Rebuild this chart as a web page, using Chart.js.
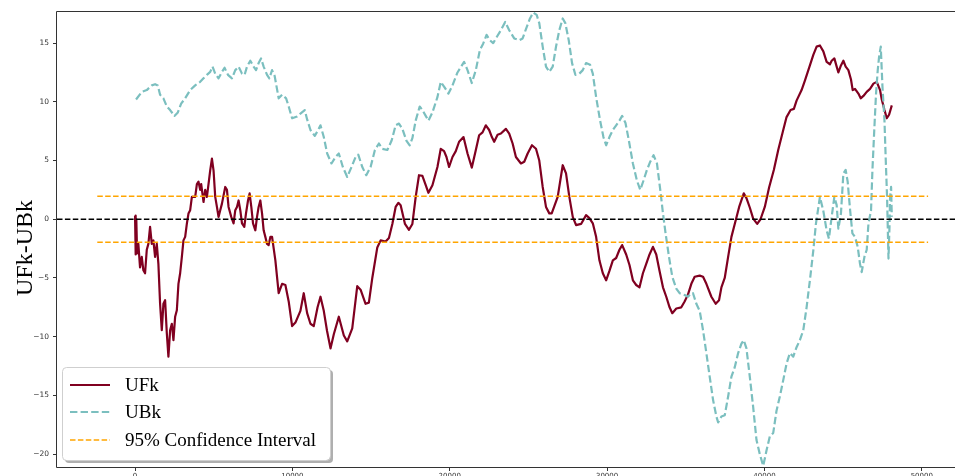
<!DOCTYPE html>
<html><head><meta charset="utf-8">
<script src="https://cdn.jsdelivr.net/npm/chart.js@4.4.1/dist/chart.umd.min.js"></script>
<style>
html,body{margin:0;padding:0;background:#fff;overflow:hidden;width:955px;height:476px}
#wrap{position:absolute;left:0;top:0;width:980px;height:490px}
canvas{display:block}
</style>
</head><body><div id="wrap"><canvas id="c" width="980" height="490" style="width:980px;height:490px"></canvas></div>
<script>
// ---- data ----
const xTicks = [0, 10000, 20000, 30000, 40000, 50000];
const yTicks = [-20, -15, -10, -5, 0, 5, 10, 15];
const xRange = [-4960, 53000];
const yRange = [-21.1, 17.65];
const ciLevel = 1.96;
const ciRange = [-2400, 50400];

const ufkX = [0,40,80,130,210,318,427,529,637,745,847,955,1064,1166,1274,1382,1484,1592,1700,1803,1911,2019,2121,2229,2338,2440,2548,2656,2758,2866,2975,3077,3185,3293,3395,3503,3612,3714,3822,3930,4032,4140,4204,4351,4459,4567,4669,4777,4886,4988,5096,5204,5306,5414,5523,5733,5841,5943,6115,6262,6370,6478,6580,6688,6797,6943,7051,7179,7281,7389,7498,7644,7752,7854,7962,8071,8173,8281,8389,8491,8600,8708,8918,9128,9345,9555,9765,9982,10192,10510,10721,10937,11148,11358,11600,11785,11995,12200,12422,12632,12950,13269,13485,13804,14122,14333,14651,14861,15078,15396,15607,15925,16135,16352,16562,16734,16880,17154,17409,17625,17836,18046,18262,18473,18645,18900,19218,19429,19639,19792,19957,20174,20384,20594,20874,21129,21403,21658,21868,22085,22295,22505,22677,22824,23040,23251,23569,23779,23996,24206,24525,24735,24951,25225,25480,25690,25907,26117,26327,26480,26861,27180,27390,27600,27818,28028,28347,28665,28875,29092,29302,29512,29729,29939,30149,30366,30576,30786,30958,31213,31423,31640,31850,32060,32277,32487,32697,32914,33124,33334,33551,33761,33971,34143,34398,34717,34927,35143,35354,35566,35885,36098,36309,36627,36902,37114,37265,37476,37692,37902,38113,38392,38686,38857,39068,39284,39539,39749,40022,40303,40596,40876,41195,41405,41660,41870,42042,42361,42571,42889,43106,43316,43526,43743,43953,44163,44272,44443,44590,44698,44863,45016,45162,45334,45500,45609,45755,45971,46118,46290,46500,46711,46927,47138,47348,47456,47628,47775,47921,48094];
const ufkY = [0.3,-3.0,0.0,-2.9,-2.1,-4.1,-3.2,-4.35,-4.6,-2.6,-2.1,-0.65,-2.1,-1.8,-3.2,-2.1,-3.8,-7.2,-9.45,-7.2,-6.9,-9.7,-11.7,-9.45,-8.9,-10.3,-8.3,-7.75,-5.5,-4.6,-3.2,-1.8,-1.5,-0.37,0.48,0.77,1.9,1.9,1.9,3.0,3.2,2.5,3.0,1.47,2.5,1.9,3.0,4.17,5.17,4.17,1.9,1.05,0.2,0.77,1.33,2.75,2.5,1.05,0.2,-0.35,0.77,1.05,1.6,0.77,-0.35,-0.65,0.5,1.6,2.2,1.05,-0.35,-0.94,0.2,1.05,1.6,0.5,-0.94,-1.5,-2.1,-2.2,-1.5,-1.5,-3.5,-6.3,-5.5,-5.6,-7.0,-9.1,-8.8,-7.8,-6.3,-8.0,-8.9,-9.1,-7.5,-6.6,-7.8,-9.5,-11.0,-9.8,-8.3,-9.9,-10.4,-9.3,-5.7,-6.0,-7.2,-7.1,-5.0,-2.4,-1.8,-1.9,-1.6,-0.4,1.05,1.4,1.2,-0.4,-0.9,-0.4,1.9,3.75,3.7,2.9,2.25,2.9,4.45,6.0,5.8,5.3,4.45,5.3,5.8,6.6,7.0,5.6,4.4,5.9,7.15,7.4,8.0,7.6,7.0,6.6,7.2,7.3,7.7,7.3,6.45,5.3,4.75,4.9,5.6,6.3,6.0,5.0,2.75,1.05,0.5,0.5,1.9,4.6,3.9,1.9,0.2,-0.5,-0.4,0.35,0.1,-0.35,-1.5,-3.5,-4.6,-5.2,-4.4,-3.5,-3.3,-2.6,-2.2,-3.0,-3.9,-5.2,-5.6,-5.8,-4.6,-3.8,-3.0,-2.35,-3.0,-4.4,-5.8,-6.6,-7.5,-8.0,-7.6,-7.5,-7.0,-6.4,-5.5,-4.9,-4.8,-4.9,-5.5,-6.6,-7.2,-6.9,-5.8,-5.0,-3.2,-1.5,-0.4,1.05,2.2,1.8,1.0,0.05,-0.4,0.0,1.05,2.75,4.2,5.9,7.6,8.7,9.3,9.4,10.1,11.0,11.8,13.1,14.0,14.7,14.8,14.3,13.4,13.2,13.5,13.7,13.0,12.5,13.1,13.5,13.0,12.7,11.9,11.0,11.1,10.7,10.3,10.5,10.85,11.1,11.55,11.7,11.0,10.2,9.3,8.6,8.9,9.7];

const ubkX = [64,427,745,1064,1274,1446,1592,1803,2019,2229,2503,2720,2930,3185,3503,3822,4140,4351,4567,4777,4924,5096,5306,5523,5688,5905,6160,6370,6580,6797,6962,7115,7325,7536,7689,7854,8007,8173,8389,8536,8708,8873,9128,9345,9600,9765,9982,10300,10510,10785,10937,11148,11421,11638,11785,11995,12211,12485,12740,12950,13205,13485,13759,14014,14186,14441,14696,14970,15244,15498,15715,16033,16307,16562,16772,16989,17243,17454,17625,17836,18090,18262,18473,18645,18900,19218,19429,19639,19919,20174,20492,20913,21129,21403,21658,21913,22123,22340,22550,22760,22977,23251,23524,23779,24097,24416,24632,24843,25098,25308,25524,25690,25907,26117,26327,26544,26754,26964,27180,27345,27562,27773,27984,28239,28455,28665,28920,29092,29302,29557,29767,29939,30149,30366,30576,30786,30958,31169,31384,31640,31895,32105,32315,32532,32742,32953,33169,33379,33551,33716,33933,34143,34398,34608,34927,35143,35354,35460,35672,35885,36098,36309,36520,36736,36946,37057,37265,37476,37692,37902,38113,38328,38538,38686,38857,39068,39284,39494,39704,39921,40131,40341,40558,40768,40978,41195,41405,41615,41832,42042,42252,42469,42679,42889,43106,43271,43526,43743,43953,44099,44272,44443,44590,44698,44863,45016,45162,45289,45436,45589,45755,45927,46073,46181,46354,46500,46608,46774,46863,46990,47092,47200,47283,47392,47500,47628,47711,47793,47883,47947,47985,48049,48094];
const ubkY = [10.2,10.85,11.0,11.4,11.5,11.4,10.6,10.3,9.6,9.3,8.8,9.1,9.85,10.3,11.0,11.4,11.7,12.0,12.3,12.55,13.0,12.4,12.0,12.55,12.9,12.3,12.0,12.7,13.0,12.4,12.3,13.0,13.5,13.0,12.7,13.3,13.7,13.0,12.3,12.0,12.7,12.2,10.3,10.6,10.3,9.6,8.6,8.75,9.0,9.3,8.5,7.6,7.1,7.6,8.0,7.0,5.6,4.75,5.3,5.6,4.45,3.6,4.45,5.3,5.5,4.45,3.75,4.45,5.9,6.45,6.0,5.9,6.7,8.0,8.15,7.7,6.7,6.3,6.9,8.4,9.6,9.3,8.8,8.4,9.1,10.4,11.7,11.3,10.7,11.4,12.5,13.4,12.7,11.6,12.7,14.4,14.95,15.7,15.25,15.0,15.5,16.1,16.8,16.1,15.4,15.25,15.4,16.2,17.1,17.6,17.4,16.7,14.7,13.0,12.55,13.0,14.7,16.1,17.1,16.7,15.25,13.3,12.3,12.4,12.7,13.3,13.15,12.4,10.4,8.4,7.0,6.3,7.0,7.6,8.0,8.4,8.8,8.2,6.7,4.75,3.3,2.5,3.3,4.2,4.9,5.45,4.75,2.5,0.5,-1.2,-3.2,-4.9,-5.9,-6.3,-6.45,-6.6,-6.3,-6.3,-7.2,-7.8,-9.45,-11.4,-13.4,-15.4,-16.8,-17.3,-16.8,-16.7,-15.1,-13.4,-12.6,-11.4,-10.6,-10.3,-11.0,-13.4,-16.0,-18.8,-20.0,-21.0,-19.7,-18.5,-18.2,-16.3,-15.1,-13.7,-12.3,-11.4,-11.7,-10.9,-10.3,-9.45,-7.5,-5.2,-2.65,-0.4,1.9,0.7,-0.95,-1.65,0.2,1.9,1.2,-0.8,0.5,3.9,4.2,3.2,0.9,-1.2,-1.5,-2.35,-3.8,-4.5,-3.2,-2.6,-0.4,0.75,4.2,7.9,10.7,12.7,13.8,14.7,11.3,8.4,5.0,1.9,-3.35,-0.65,1.9,2.75,0.2];

const legendLabels = ['UFk', 'UBk', '95% Confidence Interval'];
const yTitle = 'UFk-UBk';

// ---- styles ----
const C_UFK = '#800020', C_UBK = '#7bbfbf', C_CI = '#FFA500';

const zip = (xs, ys) => xs.map((x, i) => ({x, y: ys[i]}));

const frameLegend = {
  id: 'frameLegend',
  afterDatasetsDraw(chart) {
    const ctx = chart.ctx, a = chart.chartArea;
    ctx.save();
    ctx.strokeStyle = '#333'; ctx.lineWidth = 1;
    ctx.beginPath();
    ctx.moveTo(a.left - 0.5, a.bottom + 0.5);
    ctx.lineTo(a.left - 0.5, a.top - 0.5);
    ctx.lineTo(a.right + 0.5, a.top - 0.5);
    ctx.lineTo(a.right + 0.5, a.bottom + 0.5);
    ctx.lineTo(a.left - 0.5, a.bottom + 0.5);
    ctx.stroke();
    ctx.restore();
  },
  afterDraw(chart) {
    const ctx = chart.ctx;
    ctx.save();
    // y title
    ctx.translate(32, 248);
    ctx.rotate(-Math.PI / 2);
    ctx.fillStyle = '#000';
    ctx.font = '24px "Liberation Serif", "Times New Roman", serif';
    ctx.textAlign = 'center'; ctx.textBaseline = 'alphabetic';
    ctx.fillText(yTitle, 0, 0);
    ctx.restore();

    // legend box
    const x = 62, y = 367, w = 268, h = 93, r = 4;
    const rr = (px, py) => {
      ctx.beginPath();
      ctx.moveTo(px + r, py);
      ctx.arcTo(px + w, py, px + w, py + h, r);
      ctx.arcTo(px + w, py + h, px, py + h, r);
      ctx.arcTo(px, py + h, px, py, r);
      ctx.arcTo(px, py, px + w, py, r);
      ctx.closePath();
    };
    ctx.save();
    ctx.fillStyle = 'rgba(110,110,110,0.55)';
    rr(x + 3, y + 3); ctx.fill();
    ctx.fillStyle = '#fff';
    rr(x, y); ctx.fill();
    ctx.strokeStyle = '#cfcfcf'; ctx.lineWidth = 1;
    rr(x + 0.5, y + 0.5); ctx.stroke();

    const rows = [385, 412, 440];
    const styles = [
      {c: C_UFK, d: [], w: 2.2},
      {c: C_UBK, d: [7.4, 3.2], w: 2.2},
      {c: C_CI, d: [5.5, 2.4], w: 1.5}
    ];
    rows.forEach((ry, i) => {
      const s = styles[i];
      ctx.strokeStyle = s.c; ctx.lineWidth = s.w; ctx.setLineDash(s.d);
      ctx.beginPath(); ctx.moveTo(70, ry); ctx.lineTo(110, ry); ctx.stroke();
      ctx.setLineDash([]);
      ctx.fillStyle = '#000';
      ctx.font = '19px "Liberation Serif", "Times New Roman", serif';
      ctx.textAlign = 'left'; ctx.textBaseline = 'middle';
      ctx.fillText(legendLabels[i], 125, ry + 1);
    });
    ctx.restore();
  }
};

const fmt = v => (v < 0 ? '\u2212' + Math.abs(v) : String(v));

new Chart(document.getElementById('c'), {
  type: 'line',
  data: {
    datasets: [
      {label: legendLabels[0], data: zip(ufkX, ufkY), borderColor: C_UFK, borderWidth: 2.2, pointRadius: 0, tension: 0, order: 4, borderJoinStyle: 'round'},
      {label: legendLabels[1], data: zip(ubkX, ubkY), borderColor: C_UBK, borderWidth: 2.2, borderDash: [7.4, 3.2], pointRadius: 0, tension: 0, order: 3, borderJoinStyle: 'round'},
      {label: 'zero', data: [{x: xRange[0], y: 0}, {x: xRange[1], y: 0}], borderColor: '#000', borderWidth: 1.5, borderDash: [5.5, 2.4], pointRadius: 0, order: 2},
      {label: legendLabels[2], data: [{x: ciRange[0], y: ciLevel}, {x: ciRange[1], y: ciLevel}], borderColor: C_CI, borderWidth: 1.5, borderDash: [5.5, 2.4], pointRadius: 0, order: 1},
      {label: 'lower', data: [{x: ciRange[0], y: -ciLevel}, {x: ciRange[1], y: -ciLevel}], borderColor: C_CI, borderWidth: 1.5, borderDash: [5.5, 2.4], pointRadius: 0, order: 1}
    ]
  },
  options: {
    responsive: false,
    animation: false,
    devicePixelRatio: 1,
    layout: {padding: {top: 12, right: 11, left: 0, bottom: 0}},
    plugins: {legend: {display: false}, tooltip: {enabled: false}},
    scales: {
      x: {
        type: 'linear', min: xRange[0], max: xRange[1],
        afterBuildTicks: s => { s.ticks = xTicks.map(v => ({value: v})); },
        afterFit: s => { s.height = 23; },
        grid: {drawOnChartArea: false, drawTicks: true, tickLength: 4, tickColor: '#333', tickWidth: 1},
        border: {display: false},
        ticks: {color: '#333', padding: 1, maxRotation: 0, autoSkip: false, font: {family: 'DejaVu Sans', size: 7}, callback: v => String(v)}
      },
      y: {
        type: 'linear', min: yRange[0], max: yRange[1],
        afterBuildTicks: s => { s.ticks = yTicks.map(v => ({value: v})); },
        afterFit: s => { s.width = 57; },
        grid: {drawOnChartArea: false, drawTicks: true, tickLength: 4, tickColor: '#333', tickWidth: 1},
        border: {display: false},
        ticks: {color: '#333', padding: 4, autoSkip: false, font: {family: 'DejaVu Sans', size: 7.5}, callback: fmt}
      }
    }
  },
  plugins: [frameLegend]
});
</script>
</body></html>
